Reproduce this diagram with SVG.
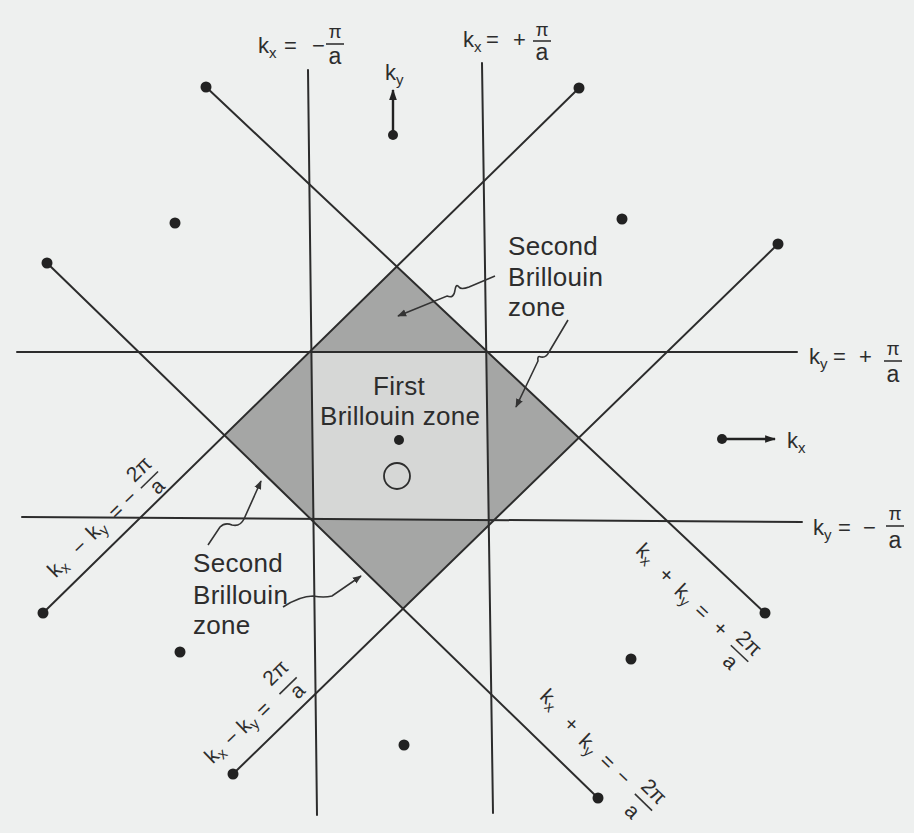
<svg xmlns="http://www.w3.org/2000/svg" width="914" height="833" viewBox="0 0 914 833">
<defs>
<style>
.ln{stroke:#2c2c2c;stroke-width:2;fill:none;stroke-linecap:round}
.bar{stroke:#333;stroke-width:1.6}
.pt{fill:#222}
.ptr{stroke:#333;stroke-width:1.6;fill:none;marker-end:url(#ah)}
.axr{stroke:#222;stroke-width:2.4;fill:none;marker-end:url(#ah2)}
text{font-family:"Liberation Sans",Arial,sans-serif;fill:#2d2d2d}
.lbl{font-size:26px;letter-spacing:0.3px}
.eq{font-size:22px}
.sub{font-size:15px}
.num{font-size:19px}
.den{font-size:23px}
.rl text{font-size:21px;text-anchor:middle}
.rl .bar{stroke-width:1.6}
</style>
<marker id="ah" viewBox="0 0 10 10" refX="9" refY="5" markerWidth="9" markerHeight="9" markerUnits="userSpaceOnUse" orient="auto">
<path d="M0,1 L10,5 L0,9 z" fill="#333"/>
</marker>
<marker id="ah2" viewBox="0 0 10 10" refX="9" refY="5" markerWidth="11" markerHeight="11" markerUnits="userSpaceOnUse" orient="auto">
<path d="M0,1.5 L10,5 L0,8.5 z" fill="#222"/>
</marker>
</defs>
<rect x="0" y="0" width="914" height="833" fill="#eef0ef"/>

<g id="zones">
<polygon id="second-zone" points="396.8,266.5 578.8,437.8 403,608.7 224.4,435.3" fill="#a5a6a5"/>
<polygon id="first-zone" points="311.4,352 486.2,352 488.7,520 313.4,519" fill="#d6d7d6"/>
</g>

<g id="connectors">
<line class="ln" x1="308" y1="70" x2="317" y2="815"/>
<line class="ln" x1="482" y1="63" x2="493" y2="813"/>
<line class="ln" x1="17" y1="352" x2="797" y2="352"/>
<line class="ln" x1="22" y1="517" x2="802" y2="522"/>
<line class="ln" x1="206" y1="87" x2="765" y2="613"/>
<line class="ln" x1="579" y1="88" x2="43" y2="613"/>
<line class="ln" x1="778" y1="244" x2="233" y2="774"/>
<line class="ln" x1="47" y1="263" x2="598" y2="798"/>
<line class="axr" x1="393" y1="135" x2="393" y2="90"/>
<line class="axr" x1="722" y1="439" x2="775" y2="439"/>
<path class="ptr" d="M495,276 L469,287 Q461,290 459,287 Q456,283 455,290 Q454,299 447,296 L398,316"/>
<path class="ptr" d="M568,320 L549,352 Q546,358 541,357 Q537,355 538,361 L516,407"/>
<path class="ptr" d="M208,545 L220,527 Q225,522 232,525 Q240,527 244,519 L261,481"/>
<path class="ptr" d="M283,607 Q300,596 313,596 Q324,598 332,596 L361,576"/>
</g>

<g id="lattice-points">
<g id="pt1"><circle class="pt" cx="206" cy="87" r="5.5"/></g>
<g id="pt2"><circle class="pt" cx="579" cy="88" r="5.5"/></g>
<g id="pt3"><circle class="pt" cx="393" cy="135" r="5"/></g>
<g id="pt4"><circle class="pt" cx="175" cy="223" r="5.5"/></g>
<g id="pt5"><circle class="pt" cx="622" cy="219" r="5.5"/></g>
<g id="pt6"><circle class="pt" cx="778" cy="244" r="5.5"/></g>
<g id="pt7"><circle class="pt" cx="47" cy="263" r="5.5"/></g>
<g id="pt8"><circle class="pt" cx="399" cy="440" r="5"/></g>
<g id="pt9"><circle class="pt" cx="722" cy="439" r="5"/></g>
<g id="pt10"><circle class="pt" cx="43" cy="613" r="5.5"/></g>
<g id="pt11"><circle class="pt" cx="765" cy="613" r="5.5"/></g>
<g id="pt12"><circle class="pt" cx="180" cy="652" r="5.5"/></g>
<g id="pt13"><circle class="pt" cx="631" cy="659" r="5.5"/></g>
<g id="pt14"><circle class="pt" cx="404" cy="745" r="5.5"/></g>
<g id="pt15"><circle class="pt" cx="233" cy="774" r="5.5"/></g>
<g id="pt16"><circle class="pt" cx="598" cy="798" r="5.5"/></g>
<g id="origin"><circle cx="397" cy="476" r="13" fill="none" stroke="#2d2d2d" stroke-width="1.8"/></g>
</g>

<g id="zone-labels">
<text class="lbl" x="508" y="255">Second</text>
<text class="lbl" x="508" y="286">Brillouin</text>
<text class="lbl" x="508" y="316">zone</text>
<text class="lbl" x="399" y="395" text-anchor="middle">First</text>
<text class="lbl" x="320" y="425">Brillouin zone</text>
<text class="lbl" x="193" y="572">Second</text>
<text class="lbl" x="193" y="604">Brillouin</text>
<text class="lbl" x="193" y="634">zone</text>
</g>

<g id="axis-labels">
<text class="eq" x="385" y="80">k<tspan class="sub" dy="5">y</tspan></text>
<text class="eq" x="787" y="448">k<tspan class="sub" dy="5">x</tspan></text>
</g>

<g id="label-kx-minus">
<text class="eq" x="258" y="53">k<tspan class="sub" dy="5">x</tspan></text>
<text class="eq" x="284" y="53">=</text>
<text class="eq" x="312" y="53">−</text>
<text class="num" x="335" y="38" text-anchor="middle">π</text>
<line class="bar" x1="326" y1="44" x2="344" y2="44"/>
<text class="den" x="335" y="64" text-anchor="middle">a</text>
</g>

<g id="label-kx-plus">
<text class="eq" x="463" y="47">k<tspan class="sub" dy="5">x</tspan></text>
<text class="eq" x="486" y="47">=</text>
<text class="eq" x="513" y="47">+</text>
<text class="num" x="542" y="36" text-anchor="middle">π</text>
<line class="bar" x1="533" y1="41" x2="551" y2="41"/>
<text class="den" x="542" y="60" text-anchor="middle">a</text>
</g>

<g id="label-ky-plus">
<text class="eq" x="809" y="364">k<tspan class="sub" dy="5">y</tspan></text>
<text class="eq" x="833" y="364">=</text>
<text class="eq" x="859" y="364">+</text>
<text class="num" x="893" y="355" text-anchor="middle">π</text>
<line class="bar" x1="884" y1="361" x2="902" y2="361"/>
<text class="den" x="893" y="382" text-anchor="middle">a</text>
</g>

<g id="label-ky-minus">
<text class="eq" x="813" y="535">k<tspan class="sub" dy="5">y</tspan></text>
<text class="eq" x="838" y="535">=</text>
<text class="eq" x="863" y="535">−</text>
<text class="num" x="895" y="520" text-anchor="middle">π</text>
<line class="bar" x1="886" y1="526" x2="904" y2="526"/>
<text class="den" x="895" y="548" text-anchor="middle">a</text>
</g>

<g id="label-diff-minus" class="rl" transform="translate(58,568) rotate(-44.4)">
<text x="0" y="6">k<tspan class="sub" dy="4">x</tspan></text>
<text x="30" y="7">−</text>
<text x="54" y="6">k<tspan class="sub" dy="4">y</tspan></text>
<text x="81" y="7">=</text>
<text x="100" y="7">−</text>
<text x="127" y="-7">2π</text>
<line class="bar" x1="115" y1="1" x2="139" y2="1"/>
<text x="128" y="18">a</text>
</g>

<g id="label-diff-plus" class="rl" transform="translate(215,754) rotate(-44.2)">
<text x="0" y="6">k<tspan class="sub" dy="4">x</tspan></text>
<text x="23" y="7">−</text>
<text x="44" y="7">k<tspan class="sub" dy="4">y</tspan></text>
<text x="66" y="9">=</text>
<text x="100" y="-9">2π</text>
<line class="bar" x1="88" y1="2" x2="112" y2="2"/>
<text x="103" y="19">a</text>
</g>

<g id="label-sum-plus" class="rl" transform="translate(646,553) rotate(43.3)">
<text x="0" y="7">k<tspan class="sub" dy="4">x</tspan></text>
<text x="30" y="9">+</text>
<text x="56" y="10">k<tspan class="sub" dy="4">y</tspan></text>
<text x="81" y="11">=</text>
<text x="106" y="11">+</text>
<text x="137" y="2">2π</text>
<line class="bar" x1="125" y1="9" x2="149" y2="9"/>
<text x="136" y="28">a</text>
</g>

<g id="label-sum-minus" class="rl" transform="translate(550,699) rotate(44.15)">
<text x="0" y="7">k<tspan class="sub" dy="4">x</tspan></text>
<text x="33" y="10">+</text>
<text x="59" y="12">k<tspan class="sub" dy="4">y</tspan></text>
<text x="85" y="12">=</text>
<text x="107" y="12">−</text>
<text x="139" y="1">2π</text>
<line class="bar" x1="127" y1="9" x2="151" y2="9"/>
<text x="137" y="30">a</text>
</g>
</svg>
